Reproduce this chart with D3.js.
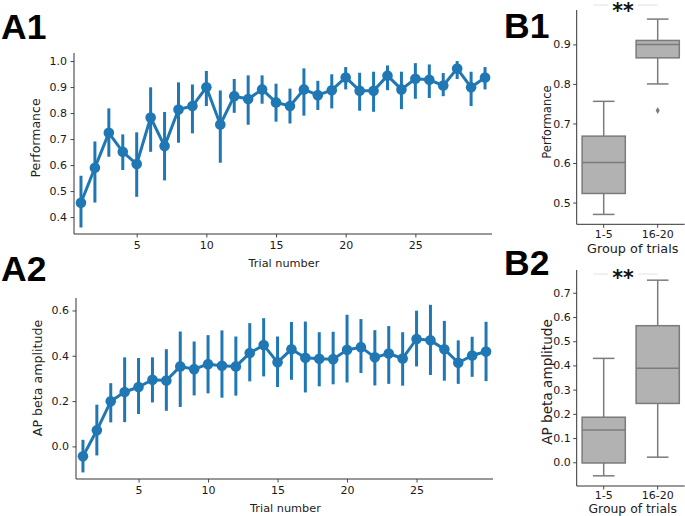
<!DOCTYPE html>
<html><head><meta charset="utf-8">
<script src="https://cdn.jsdelivr.net/npm/d3@7"></script>
<style>body{margin:0;background:#fff}svg{display:block}text{font-family:"DejaVu Sans",sans-serif;fill:#222}</style>
</head><body><svg id="c" width="685" height="516"></svg>
<script>
const trials = d3.range(1, 31);
const perfMean = [0.455,0.590,0.724,0.651,0.604,0.783,0.673,0.814,0.827,0.899,0.756,0.865,0.854,0.891,0.841,0.827,0.891,0.869,0.888,0.937,0.886,0.886,0.944,0.891,0.932,0.928,0.906,0.971,0.899,0.937];
const perfLo   = [0.360,0.456,0.632,0.581,0.478,0.651,0.541,0.686,0.722,0.827,0.609,0.801,0.755,0.836,0.767,0.760,0.790,0.812,0.818,0.891,0.809,0.805,0.888,0.815,0.855,0.858,0.865,0.931,0.827,0.891];
const perfHi   = [0.559,0.691,0.818,0.718,0.726,0.899,0.804,0.918,0.910,0.962,0.887,0.931,0.945,0.945,0.913,0.894,0.972,0.924,0.949,0.977,0.955,0.959,0.983,0.959,0.992,0.987,0.954,1.000,0.959,0.977];
const ampMean = [-0.044,0.071,0.199,0.240,0.262,0.294,0.291,0.353,0.341,0.363,0.356,0.353,0.412,0.447,0.371,0.429,0.391,0.387,0.385,0.426,0.438,0.393,0.410,0.388,0.474,0.468,0.429,0.369,0.401,0.419];
const ampLo   = [-0.115,-0.040,0.106,0.107,0.143,0.194,0.157,0.174,0.225,0.234,0.215,0.224,0.287,0.309,0.262,0.294,0.238,0.265,0.274,0.282,0.324,0.269,0.276,0.268,0.353,0.315,0.290,0.276,0.307,0.288];
const ampHi   = [0.029,0.184,0.279,0.393,0.390,0.393,0.429,0.507,0.463,0.491,0.512,0.485,0.544,0.566,0.485,0.549,0.551,0.504,0.506,0.581,0.562,0.513,0.531,0.504,0.599,0.625,0.554,0.468,0.484,0.550];
const groups = ["1-5", "16-20"];
// box stats: [whiskerLow, Q1, median, Q3, whiskerHigh]
const perfBox = [[0.470,0.523,0.601,0.668,0.756],[0.800,0.866,0.900,0.910,0.964]];
const perfOutliers = [[], [0.733]];
const ampBox = [[-0.056,-0.003,0.133,0.186,0.429],[0.021,0.243,0.388,0.564,0.752]];
const ampOutliers = [[], []];
const perfTicks = [0.4,0.5,0.6,0.7,0.8,0.9,1.0];
const ampTicks = [0.0,0.2,0.4,0.6];
const perfBoxTicks = [0.5,0.6,0.7,0.8,0.9];
const ampBoxTicks = [0.0,0.1,0.2,0.3,0.4,0.5,0.6,0.7];
const trialTicks = [5,10,15,20,25];

const svg = d3.select("#c");
const BLUE = "#1f77b4", SPINE = "#333";

function styleAxis(g){
  g.select(".domain").attr("stroke", SPINE).attr("stroke-width", 1);
  g.selectAll(".tick line").attr("stroke", SPINE).attr("stroke-width", 0.9);
  g.selectAll(".tick text").attr("font-size", "11px").style("fill", "#1a1a1a");
}

function pointPanel(o){
  const x = d3.scaleLinear().domain([0.5, 30.5]).range([o.l, o.r]);
  const y = d3.scaleLinear().domain(o.yd).range([o.b, o.t]);
  const gx = svg.append("g").attr("transform", `translate(0,${o.b})`)
    .call(d3.axisBottom(x).tickValues(trialTicks).tickSize(3.5).tickPadding(3.5).tickFormat(d3.format("d")));
  gx.select(".domain").attr("d", `M${o.l},0H${o.r}`);
  styleAxis(gx);
  const gy = svg.append("g").attr("transform", `translate(${o.l},0)`)
    .call(d3.axisLeft(y).tickValues(o.ticks).tickSize(3.5).tickPadding(3.5).tickFormat(d3.format(".1f")));
  gy.select(".domain").attr("d", `M0,${o.t}V${o.b}`);
  styleAxis(gy);
  const g = svg.append("g");
  g.selectAll("line.err").data(trials).join("line")
    .attr("x1", (d)=>x(d)).attr("x2", (d)=>x(d))
    .attr("y1", (d,i)=>y(o.lo[i])).attr("y2", (d,i)=>y(o.hi[i]))
    .attr("stroke", BLUE).attr("stroke-width", 3);
  g.append("path").datum(trials)
    .attr("d", d3.line().x(d=>x(d)).y((d,i)=>y(o.mean[i])))
    .attr("fill", "none").attr("stroke", BLUE).attr("stroke-width", 3).attr("stroke-linejoin","round");
  g.selectAll("circle").data(trials).join("circle")
    .attr("cx", d=>x(d)).attr("cy", (d,i)=>y(o.mean[i])).attr("r", 5.3).attr("fill", BLUE);
  svg.append("text").attr("x", (o.l+o.r)/2 + 1).attr("y", o.xlY).attr("text-anchor","middle")
    .attr("font-size","11.3px").text("Trial number");
  svg.append("text").attr("transform", `translate(${o.ylX},${o.ylY}) rotate(-90)`).attr("text-anchor","middle")
    .attr("font-size", o.ylFs).text(o.ylabel);
}

pointPanel({l:74, r:492, t:53, b:234, yd:[0.335,1.031], ticks:perfTicks, mean:perfMean, lo:perfLo, hi:perfHi,
  xlY:267, ylX:40, ylY:138, ylFs:"12.5px", ylabel:"Performance"});
pointPanel({l:76, r:493, t:298, b:479, yd:[-0.144,0.655], ticks:ampTicks, mean:ampMean, lo:ampLo, hi:ampHi,
  xlY:512, ylX:42, ylY:378, ylFs:"12.6px", ylabel:"AP beta amplitude"});

function boxPanel(o){
  const x = d3.scaleBand().domain(groups).range([o.l, o.r]).paddingInner(0).paddingOuter(0);
  const y = d3.scaleLinear().domain(o.yd).range([o.b, o.t]);
  const gx = svg.append("g").attr("transform", `translate(0,${o.b})`)
    .call(d3.axisBottom(x).tickSize(3.5).tickPadding(o.xPad));
  gx.select(".domain").attr("d", `M${o.l},0H${o.r}`);
  styleAxis(gx);
  const gy = svg.append("g").attr("transform", `translate(${o.l},0)`)
    .call(d3.axisLeft(y).tickValues(o.ticks).tickSize(3.5).tickPadding(2.5).tickFormat(d3.format(".1f")));
  gy.select(".domain").attr("d", `M0,${o.t}V${o.b}`);
  styleAxis(gy);
  const bw = x.bandwidth()*0.8;
  const FILL = "#b2b2b2", EDGE = "#7b7b7b";
  groups.forEach((gname, i) => {
    const s = o.stats[i];
    const cx = x(gname) + x.bandwidth()/2;
    const g = svg.append("g");
    g.append("line").attr("x1",cx).attr("x2",cx).attr("y1",y(s[0])).attr("y2",y(s[1])).attr("stroke",EDGE).attr("stroke-width",1.5);
    g.append("line").attr("x1",cx).attr("x2",cx).attr("y1",y(s[3])).attr("y2",y(s[4])).attr("stroke",EDGE).attr("stroke-width",1.5);
    g.append("line").attr("x1",cx-bw/4).attr("x2",cx+bw/4).attr("y1",y(s[0])).attr("y2",y(s[0])).attr("stroke",EDGE).attr("stroke-width",1.5);
    g.append("line").attr("x1",cx-bw/4).attr("x2",cx+bw/4).attr("y1",y(s[4])).attr("y2",y(s[4])).attr("stroke",EDGE).attr("stroke-width",1.5);
    g.append("rect").attr("x",cx-bw/2).attr("width",bw).attr("y",y(s[3])).attr("height",y(s[1])-y(s[3]))
      .attr("fill",FILL).attr("stroke",EDGE).attr("stroke-width",1.5);
    g.append("line").attr("x1",cx-bw/2).attr("x2",cx+bw/2).attr("y1",y(s[2])).attr("y2",y(s[2])).attr("stroke",EDGE).attr("stroke-width",1.5);
    o.outliers[i].forEach(v => {
      g.append("path").attr("d", d3.symbol(d3.symbolDiamond, 14)()).attr("transform", `translate(${cx},${y(v)})`).attr("fill", EDGE);
    });
  });
  const c0 = x(groups[0]) + x.bandwidth()/2 - 10, c1 = x(groups[1]) + x.bandwidth()/2;
  svg.append("line").attr("x1", c0).attr("x2", c1).attr("y1", o.sigY).attr("y2", o.sigY).attr("stroke", "#e2e2e2").attr("stroke-width", 1);
  svg.append("rect").attr("x", 608).attr("y", o.sigY-6).attr("width", 30).attr("height", 12).attr("fill", "#fff");
  svg.append("text").attr("x", 623).attr("y", o.sigY+o.sigDy).attr("text-anchor","middle").attr("font-weight","bold")
    .attr("font-size","20.5px").style("fill","#111").text("**");
  svg.append("text").attr("x", (o.l+o.r)/2 + 2).attr("y", o.xlY).attr("text-anchor","middle")
    .attr("font-size", o.xlFs).text("Group of trials");
  svg.append("text").attr("transform", `translate(${o.ylX},${o.ylY}) rotate(-90)`).attr("text-anchor","middle")
    .attr("font-size", o.ylFs).text(o.ylabel);
}

boxPanel({l:576.7, r:684.7, t:10, b:224.3, yd:[0.445,0.987], ticks:perfBoxTicks, stats:perfBox, outliers:perfOutliers,
  sigY:5, sigDy:13, xPad:2.3, xlY:253, xlFs:"12.8px", ylX:551, ylY:122, ylFs:"11.6px", ylabel:"Performance"});
boxPanel({l:576.7, r:684.7, t:270, b:486, yd:[-0.098,0.794], ticks:ampBoxTicks, stats:ampBox, outliers:ampOutliers,
  sigY:274, sigDy:11, xPad:1.2, xlY:513, xlFs:"12.4px", ylX:552, ylY:382, ylFs:"13.6px", ylabel:"AP beta amplitude"});

const panelLabels = ["A1","A2","B1","B2"];
const plX = [1, 1, 504, 504], plY = [39, 281, 38, 275];
panelLabels.forEach((t,i) => {
  svg.append("text").attr("x", plX[i]).attr("y", plY[i])
    .style("font-family","'Liberation Sans',Arial,sans-serif")
    .attr("font-weight","bold").attr("font-size","35.5px").style("fill","#000").text(t);
});
</script></body></html>
